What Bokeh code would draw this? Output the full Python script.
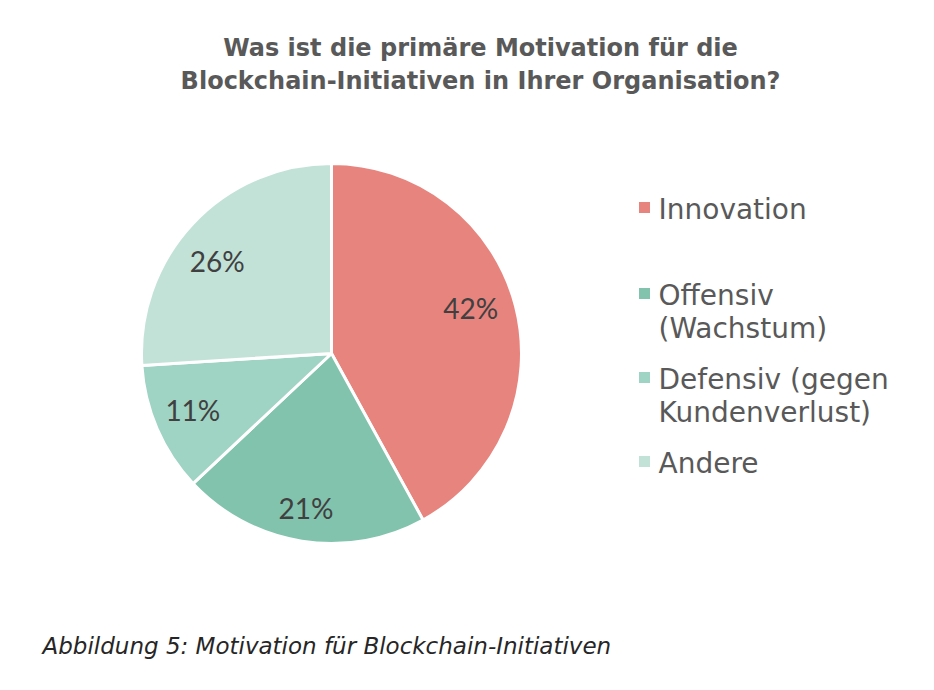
import numpy as np
from bokeh.plotting import figure
from bokeh.models import Range1d, ColumnDataSource
from bokeh.core.properties import value
from bokeh.embed import file_html
from bokeh.resources import INLINE

# ---- data ----
categories = ["Innovation", "Offensiv (Wachstum)", "Defensiv (gegen Kundenverlust)", "Andere"]
legend_labels = ["Innovation", "Offensiv\n(Wachstum)", "Defensiv (gegen\nKundenverlust)", "Andere"]
shares = [42, 21, 11, 26]
colors = ["#E8847E", "#82C3AD", "#9FD3C3", "#C2E2D8"]
title_lines = ["Was ist die primäre Motivation für die", "Blockchain-Initiativen in Ihrer Organisation?"]
caption = "Abbildung 5: Motivation für Blockchain-Initiativen"

# ---- styling / layout ----
W, H = 918, 674
LABEL_FONT = "Lato"
TEXT_FONT = "DejaVu Sans"
label_nudge_x = [-6, -2, -1, -5]
label_nudge_y = [8, -6, 3, -10]

p = figure(width=W, height=H, output_backend="svg", toolbar_location=None,
           x_range=Range1d(0, W), y_range=Range1d(0, H),
           x_axis_type=None, y_axis_type=None, min_border=0,
           outline_line_color=None, background_fill_color="white")
p.grid.visible = False

def py(page_y):
    return H - page_y

def px(page_x):
    return page_x

cx, cy, R = px(331), py(353), 190

vals = np.array(shares, dtype=float)
frac = vals / vals.sum()
ends = np.cumsum(frac)
starts = ends - frac
start_angle = np.pi / 2 - starts * 2 * np.pi
end_angle = np.pi / 2 - ends * 2 * np.pi
mid = (start_angle + end_angle) / 2

src = ColumnDataSource(dict(start=start_angle, end=end_angle, color=colors, cat=categories))
p.wedge(x=cx, y=cy, radius=R, start_angle="start", end_angle="end", direction="clock",
        fill_color="color", line_color="white", line_width=3, source=src)

# percentage labels
lr = 150
lx = cx + lr * np.cos(mid) + np.array(label_nudge_x)
ly = cy + lr * np.sin(mid) + np.array(label_nudge_y)
p.text(x=lx, y=ly, text=[f"{int(v)}%" for v in shares], text_align="center",
       text_baseline="middle", text_font=value(LABEL_FONT), text_font_size="28px",
       text_color="#404040")

# title
for i, line in enumerate(title_lines):
    p.text(x=[px(480)], y=[py(47 + i * 33)], text=[line], text_align="center",
           text_baseline="middle", text_font=value(TEXT_FONT), text_font_style="bold",
           text_font_size="24px", text_color="#595959")

# legend
entry_y = [209, 295, 379, 463]
for lab, col, ey in zip(legend_labels, colors, entry_y):
    p.scatter(x=[px(644)], y=[py(ey - 2)], marker="square", size=11,
              fill_color=col, line_color=None)
    for j, line in enumerate(lab.split("\n")):
        p.text(x=[px(658)], y=[py(ey + j * 33)], text=[line], text_align="left",
               text_baseline="middle", text_font=value(TEXT_FONT), text_font_size="28px",
               text_color="#595959")

# caption
p.text(x=[px(42)], y=[py(645)], text=[caption], text_align="left", text_baseline="middle",
       text_font=value(TEXT_FONT), text_font_style="italic", text_font_size="23px",
       text_color="#262626")

open("out.html", "w").write(file_html(p, INLINE))
